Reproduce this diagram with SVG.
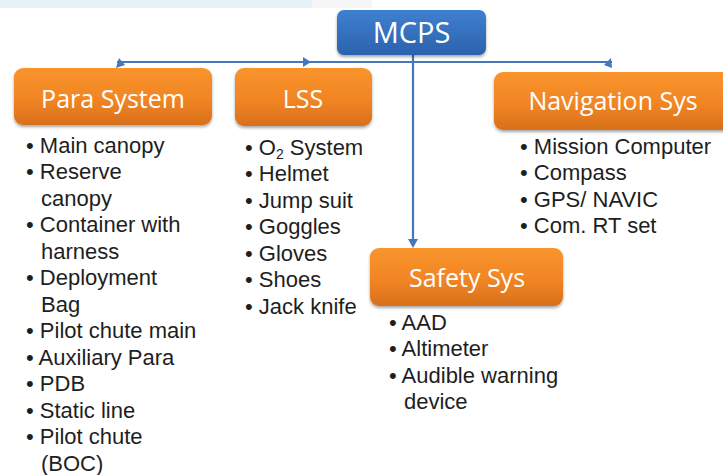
<svg xmlns="http://www.w3.org/2000/svg" width="723" height="475" viewBox="0 0 723 475">
<defs>
<linearGradient id="og" x1="0" y1="0" x2="0" y2="1">
<stop offset="0" stop-color="#f9942c"/>
<stop offset="0.55" stop-color="#f18524"/>
<stop offset="1" stop-color="#d8701c"/>
</linearGradient>
<linearGradient id="bg" x1="0" y1="0" x2="0" y2="1">
<stop offset="0" stop-color="#3f80d0"/>
<stop offset="1" stop-color="#2b62ad"/>
</linearGradient>
<filter id="sh" x="-10%" y="-10%" width="120%" height="130%">
<feGaussianBlur in="SourceAlpha" stdDeviation="1.5"/>
<feOffset dx="0" dy="2" result="b"/>
<feComponentTransfer><feFuncA type="linear" slope="0.35"/></feComponentTransfer>
<feMerge><feMergeNode/><feMergeNode in="SourceGraphic"/></feMerge>
</filter>
</defs>
<style>
.hd{font-family:"Open Sans","Liberation Sans",sans-serif;font-size:25px;fill:#ffffff;text-anchor:middle}
.it{font-family:"Liberation Sans",Arial,sans-serif;font-size:22px;fill:#1e1e1e}
.ln{stroke:#4477bb;stroke-width:2.2;fill:none}
.ah{fill:#4477bb}
</style>
<rect x="0" y="0" width="312" height="8" fill="#e6f3f9"/>
<rect x="312" y="0" width="60" height="8" fill="#f4f6f7"/>

<g id="connectors">
<polyline class="ln" points="117,62 612,62"/>
<line class="ln" x1="413" y1="55" x2="413" y2="240"/>
<polygon class="ah" points="116,68 119,58 125,65"/>
<polygon class="ah" points="311,62 303,57 303,67"/>
<polygon class="ah" points="612,68 611,58 604,65"/>
<polygon class="ah" points="413,248 408,239 418,239"/>
</g>

<g id="mcps">
<rect x="337" y="10" width="149" height="45" rx="7" fill="url(#bg)" filter="url(#sh)"/>
<text class="hd" x="411.5" y="43" style="font-size:29px">MCPS</text>
</g>

<g id="para">
<rect x="14" y="68" width="198" height="57" rx="9" fill="url(#og)" filter="url(#sh)"/>
<text class="hd" x="113" y="108">Para System</text>
<g class="it">
<text x="26" y="152.5">• Main canopy</text>
<text x="26" y="179">• Reserve</text>
<text x="41" y="205.5">canopy</text>
<text x="26" y="232">• Container with</text>
<text x="41" y="258.5">harness</text>
<text x="26" y="285">• Deployment</text>
<text x="41" y="311.5">Bag</text>
<text x="26" y="338">• Pilot chute main</text>
<text x="26" y="364.5">• Auxiliary Para</text>
<text x="26" y="391">• PDB</text>
<text x="26" y="417.5">• Static line</text>
<text x="26" y="444">• Pilot chute</text>
<text x="41" y="470.5">(BOC)</text>
</g>
</g>

<g id="lss">
<rect x="235" y="68" width="137" height="58" rx="9" fill="url(#og)" filter="url(#sh)"/>
<text class="hd" x="303" y="108">LSS</text>
<g class="it">
<text x="245" y="154.5">• O<tspan font-size="14" dy="4">2</tspan><tspan dy="-4"> System</tspan></text>
<text x="245" y="181">• Helmet</text>
<text x="245" y="207.5">• Jump suit</text>
<text x="245" y="234">• Goggles</text>
<text x="245" y="260.5">• Gloves</text>
<text x="245" y="287">• Shoes</text>
<text x="245" y="313.5">• Jack knife</text>
</g>
</g>

<g id="nav">
<rect x="494" y="72" width="240" height="58" rx="9" fill="url(#og)" filter="url(#sh)"/>
<text class="hd" x="613" y="110">Navigation Sys</text>
<g class="it">
<text x="520" y="153.5">• Mission Computer</text>
<text x="520" y="180">• Compass</text>
<text x="520" y="206.5">• GPS/ NAVIC</text>
<text x="520" y="233">• Com. RT set</text>
</g>
</g>

<g id="safety">
<rect x="370" y="248" width="193" height="58" rx="9" fill="url(#og)" filter="url(#sh)"/>
<text class="hd" x="467" y="287">Safety Sys</text>
<g class="it">
<text x="389" y="329.5">• AAD</text>
<text x="389" y="356">• Altimeter</text>
<text x="389" y="382.5">• Audible warning</text>
<text x="404" y="409">device</text>
</g>
</g>
</svg>
